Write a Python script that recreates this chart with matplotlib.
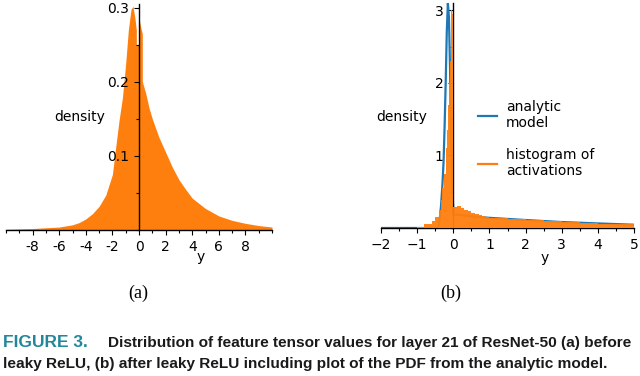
import numpy as np
import matplotlib
matplotlib.use("Agg")
import matplotlib.pyplot as plt
from matplotlib.ticker import MultipleLocator, FuncFormatter

# (a) density before leaky ReLU
a_x = [-10, -9, -8, -7, -6, -5, -4.5, -4, -3.5, -3, -2.5, -2, -1.75, -1.5,
       -1.25, -1, -0.8, -0.6, -0.45, -0.3, -0.2, -0.2, 0, 0, 0.15, 0.25,
       0.25, 0.5, 0.75, 1, 1.5, 2, 2.5, 3, 3.5, 4, 5, 6, 7, 8, 9, 10]
a_d = [0.001, 0.0015, 0.002, 0.003, 0.004, 0.007, 0.010, 0.015, 0.022, 0.032,
       0.047, 0.075, 0.112, 0.148, 0.178, 0.225, 0.27, 0.298, 0.302, 0.285,
       0.27, 0.25, 0.25, 0.285, 0.272, 0.265, 0.2, 0.185, 0.165, 0.15, 0.125,
       0.105, 0.085, 0.068, 0.055, 0.043, 0.029, 0.019, 0.013, 0.009, 0.006,
       0.004]

# (b) histogram of activations after leaky ReLU
b_edges = [-1.0, -0.8, -0.6, -0.5, -0.4, -0.35, -0.3, -0.25, -0.2, -0.175,
           -0.15, -0.125, -0.1, -0.075, -0.05, -0.025, 0,
           0.1, 0.2, 0.3, 0.4, 0.5, 0.6, 0.7, 0.8, 0.9, 1.0,
           1.5, 2, 2.5, 3, 3.5, 4, 4.5, 5]
b_hist = [0.02, 0.05, 0.09, 0.15, 0.25, 0.38, 0.55, 0.75, 1.1, 1.35, 1.7,
          2.0, 2.3, 2.6, 3.0, 2.95,
          0.29, 0.30, 0.27, 0.25, 0.23, 0.21, 0.19, 0.175, 0.16, 0.15,
          0.132, 0.118, 0.104, 0.092, 0.08, 0.07, 0.06, 0.05]

# (b) analytic model pdf
m_x = [-2, -0.42, -0.38, -0.34, -0.3, -0.27, -0.24, -0.21, -0.18, -0.15,
       -0.12, -0.09, -0.06, -0.03, 0, 0, 0.5, 1, 2, 3, 4, 5]
m_d = [0, 0, 0.1, 0.3, 0.6, 0.9, 1.4, 2.0, 2.7, 3.1, 2.9, 2.2, 1.3, 0.6,
       0.25, 0.19, 0.16, 0.14, 0.11, 0.082, 0.063, 0.045]

orange = "#ff7f0e"
blue = "#1f77b4"

plt.rcParams["font.family"] = ["DejaVu Sans"]
plt.rcParams["font.size"] = 10

fig = plt.figure(figsize=(6.4, 3.76), dpi=100)
W, H = 640.0, 376.0


def add_axes_px(left, right, bottom, top):
    return fig.add_axes([left / W, 1 - bottom / H, (right - left) / W,
                         (bottom - top) / H])


def style_axes(ax):
    ax.spines["left"].set_position(("data", 0))
    ax.spines["right"].set_visible(False)
    ax.spines["top"].set_visible(False)
    for s in ("left", "bottom"):
        ax.spines[s].set_linewidth(1.0)
    ax.tick_params(which="major", length=3.5, width=0.8)
    ax.tick_params(which="minor", length=2, width=0.8)


# panel (a)
ax1 = add_axes_px(6, 272, 230, 4)
ax1.fill_between(a_x, a_d, 0, color=orange, linewidth=0)
ax1.set_xlim(-10, 10)
ax1.set_ylim(0, 0.305)
style_axes(ax1)
ax1.set_xticks([-8, -6, -4, -2, 0, 2, 4, 6, 8])
ax1.xaxis.set_minor_locator(MultipleLocator(1))
ax1.xaxis.set_major_formatter(FuncFormatter(lambda v, p: "%d" % v))
ax1.set_yticks([0.1, 0.2, 0.3])
ax1.yaxis.set_minor_locator(MultipleLocator(0.05))
ax1.text(0.278, 0.5, "density", transform=ax1.transAxes, ha="center",
         va="center")
ax1.text(0.733, -0.12, "y", transform=ax1.transAxes, ha="center",
         va="center")

# panel (b)
ax2 = add_axes_px(381, 634, 228, 3)
ax2.plot(m_x, m_d, color=blue, linewidth=1.6, label="analytic\nmodel",
         zorder=2)
ax2.stairs(b_hist, b_edges, fill=True, color=orange, alpha=0.95,
           zorder=3)
ax2.plot([], [], color=orange, linewidth=1.6, label="histogram of\nactivations")
ax2.set_xlim(-2, 5)
ax2.set_ylim(0, 3.1)
style_axes(ax2)
ax2.set_xticks(range(-2, 6))
ax2.xaxis.set_minor_locator(MultipleLocator(0.5))
ax2.set_yticks([1, 2, 3])
ax2.yaxis.set_minor_locator(MultipleLocator(0.5))
ax2.text(0.083, 0.493, "density", transform=ax2.transAxes, ha="center",
         va="center")
ax2.text(0.648, -0.133, "y", transform=ax2.transAxes, ha="center",
         va="center")
ax2.legend(loc="upper left", bbox_to_anchor=(478 / W, 1 - 100 / H),
           bbox_transform=fig.transFigure, frameon=False, borderpad=0,
           borderaxespad=0, handlelength=1.35, handletextpad=0.65,
           labelspacing=1.3)

# sub-figure labels
fig.text(138 / W, 1 - 293 / H, "(a)", family="Liberation Serif", fontsize=13,
         ha="center", va="center")
fig.text(451 / W, 1 - 293 / H, "(b)", family="Liberation Serif", fontsize=13,
         ha="center", va="center")

# caption
cap = "Liberation Sans"
fig.text(3 / W, 1 - 347 / H, "FIGURE 3.", family=cap, weight="bold",
         fontsize=12.5, color="#23879a", va="baseline")
fig.text(631 / W, 1 - 347 / H,
         "Distribution of feature tensor values for layer 21 of ResNet-50 (a) before",
         family=cap, weight="bold", fontsize=11.1, color="#1a1a1a",
         va="baseline", ha="right")
fig.text(3 / W, 1 - 368 / H,
         "leaky ReLU, (b) after leaky ReLU including plot of the PDF from the analytic model.",
         family=cap, weight="bold", fontsize=11.1, color="#1a1a1a",
         va="baseline")

fig.savefig("out.png", dpi=100)
